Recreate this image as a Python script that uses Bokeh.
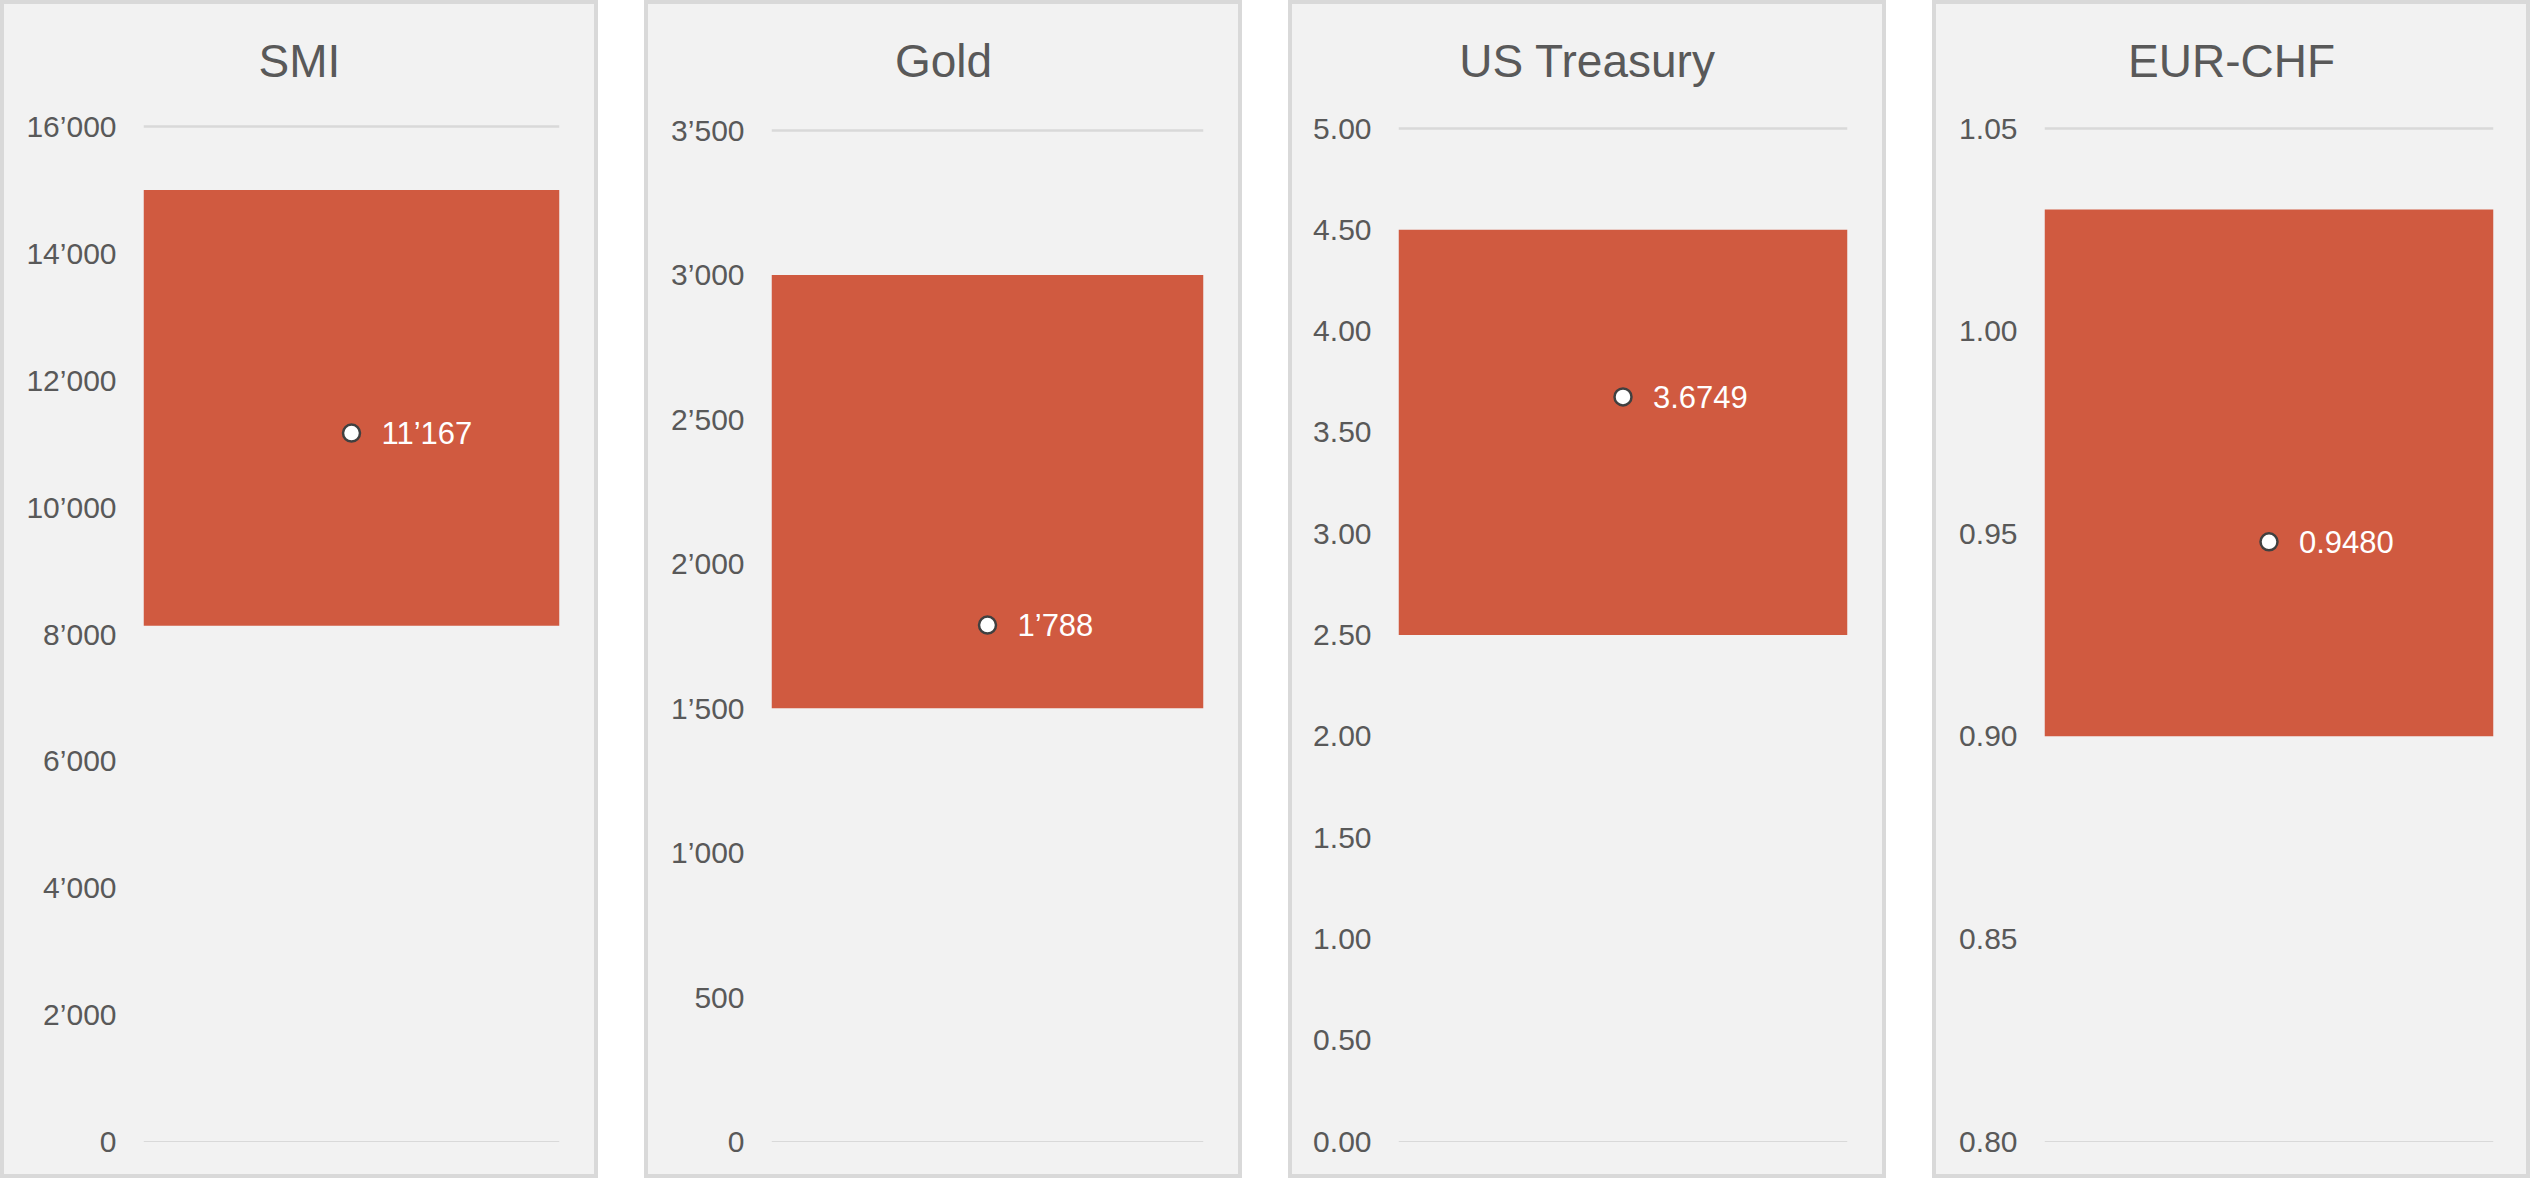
from bokeh.plotting import figure
from bokeh.models import FactorRange, Range1d, FixedTicker, Label, Span, ColumnDataSource
from bokeh.layouts import row
from bokeh.embed import file_html
from bokeh.resources import INLINE
from bokeh.core.properties import value

# ---------------- data ----------------
titles = ["SMI", "Gold", "US Treasury", "EUR-CHF"]
range_low = [8130, 1500, 2.50, 0.90]
range_high = [15000, 3000, 4.50, 1.03]
current = [11167, 1788, 3.6749, 0.9480]
current_labels = ["11’167", "1’788", "3.6749", "0.9480"]
axis_min = [0, 0, 0.00, 0.80]
axis_max = [16000, 3500, 5.00, 1.05]
tick_values = [
    [0, 2000, 4000, 6000, 8000, 10000, 12000, 14000, 16000],
    [0, 500, 1000, 1500, 2000, 2500, 3000, 3500],
    [0.0, 0.5, 1.0, 1.5, 2.0, 2.5, 3.0, 3.5, 4.0, 4.5, 5.0],
    [0.80, 0.85, 0.90, 0.95, 1.00, 1.05],
]
tick_labels = [
    ["0", "2’000", "4’000", "6’000", "8’000", "10’000", "12’000", "14’000", "16’000"],
    ["0", "500", "1’000", "1’500", "2’000", "2’500", "3’000", "3’500"],
    ["0.00", "0.50", "1.00", "1.50", "2.00", "2.50", "3.00", "3.50", "4.00", "4.50", "5.00"],
    ["0.80", "0.85", "0.90", "0.95", "1.00", "1.05"],
]

# ---------------- style / layout ----------------
FONT = "Liberation Sans"
BAR = "#D05A40"
BG = "#F2F2F2"
GRID = "#D9D9D9"
TXT = "#595959"
BORDER = 4
W, H = 598, 1178                 # figure size (CSS border drawn inside it)
VW, VH = W - 2 * BORDER, H - 2 * BORDER   # visible canvas area
LEFT = [139, 123, 106, 108]      # frame left inside canvas
RIGHT = [35 + 2 * BORDER] * 3 + [33 + 2 * BORDER]
PAD_T = 10
PAD_B = 10 + 2 * BORDER
AX_TOP = [122, 126, 124, 124]    # canvas rows of axis max line
AX_BOT = 1137                    # canvas row of axis min line
TITLE_Y = 56                     # canvas row of title centre

frame_bottom = H - PAD_B

figs = []
for i, name in enumerate(titles):
    cat = [name]
    span = axis_max[i] - axis_min[i]
    px_span = AX_BOT - AX_TOP[i]
    y0 = axis_min[i] - span * (frame_bottom - AX_BOT) / px_span
    y1 = axis_max[i] + span * (AX_TOP[i] - PAD_T) / px_span
    p = figure(
        width=W, height=H,
        x_range=FactorRange(factors=cat, range_padding=0),
        y_range=Range1d(y0, y1),
        x_axis_type=None,
        output_backend="svg", toolbar_location=None, tools="",
        min_border_left=LEFT[i], min_border_right=RIGHT[i],
        min_border_top=PAD_T, min_border_bottom=PAD_B,
        background_fill_color=None, border_fill_color=None,
        outline_line_color=None,
    )
    p.styles = {"border": f"{BORDER}px solid {GRID}", "background-color": BG}
    p.xgrid.grid_line_color = None
    p.ygrid.grid_line_color = None

    # top (thick) and bottom (thin) reference lines
    p.add_layout(Span(location=axis_max[i], dimension="width",
                      line_color=GRID, line_width=2.5))
    p.add_layout(Span(location=axis_min[i], dimension="width",
                      line_color=GRID, line_width=1))

    src = ColumnDataSource(dict(
        x=cat, low=[range_low[i]], high=[range_high[i]],
        v=[current[i]], lab=[current_labels[i]],
    ))
    p.vbar(x="x", width=1.0, bottom="low", top="high", source=src,
           fill_color=BAR, line_color=None)
    p.scatter(x="x", y="v", source=src, size=17, marker="circle",
              fill_color="white", line_color="#404040", line_width=2.5)
    p.text(x="x", y="v", text="lab", source=src, x_offset=30,
           text_align="left", text_baseline="middle",
           text_color="white", text_font=value(FONT), text_font_size="31px")

    # y axis
    ax = p.yaxis[0]
    ax.ticker = FixedTicker(ticks=tick_values[i])
    ax.major_label_overrides = {t: l for t, l in zip(tick_values[i], tick_labels[i])}
    ax.axis_line_color = None
    ax.major_tick_line_color = None
    ax.minor_tick_line_color = None
    ax.major_tick_out = 0
    ax.major_tick_in = 0
    ax.major_label_standoff = 27
    ax.major_label_text_font = FONT
    ax.major_label_text_font_size = "30px"
    ax.major_label_text_color = TXT

    # chart title, centred on the whole panel
    p.add_layout(Label(
        x=VW / 2 - LEFT[i], y=frame_bottom - TITLE_Y,
        x_units="screen", y_units="screen",
        text=name, text_align="center", text_baseline="middle",
        text_font=FONT, text_font_size="46px", text_color=TXT,
    ))
    figs.append(p)

layout = row(figs, spacing=46)
open("out.html", "w").write(file_html(layout, INLINE))
